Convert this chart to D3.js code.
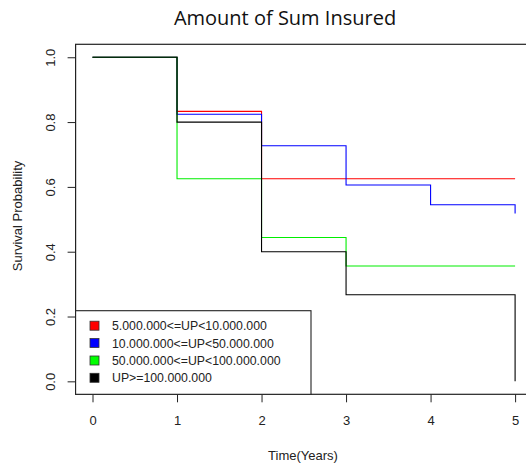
<!DOCTYPE html>
<html>
<head>
<meta charset="utf-8">
<script src="https://cdn.jsdelivr.net/npm/d3@7"></script>
<style>
  html, body { margin: 0; padding: 0; background: #fff; }
  svg { display: block; }
</style>
</head>
<body>
<script>
// ---- data ----
const seriesNames = ["5.000.000<=UP<10.000.000", "10.000.000<=UP<50.000.000", "50.000.000<=UP<100.000.000", "UP>=100.000.000"];
const seriesColors = ["#ff0000", "#0000ff", "#00ee00", "#000000"];
const redTimes = [0, 1, 2, 5];
const redSurv = [1, 0.833, 0.625, 0.625];
const blueTimes = [0, 1, 2, 3, 4, 5];
const blueSurv = [1, 0.824, 0.727, 0.606, 0.545, 0.518];
const greenTimes = [0, 1, 2, 3, 5];
const greenSurv = [1, 0.625, 0.444, 0.356, 0.356];
const blackTimes = [0, 1, 2, 3, 5];
const blackSurv = [1, 0.8, 0.4, 0.267, 0];
const xTicks = [0, 1, 2, 3, 4, 5];
const yTicks = [0, 0.2, 0.4, 0.6, 0.8, 1.0];
const titleText = "Amount of Sum Insured";
const xLabel = "Time(Years)";
const yLabel = "Survival Probability";

const W = 526, H = 466;
const svg = d3.select("body").append("svg").attr("width", W).attr("height", H);

const x = d3.scaleLinear().domain([-0.2, 5.2]).range([75.6, 532]);
const y = d3.scaleLinear().domain([-0.04, 1.04]).range([394.3, 44.3]);

const font = "'Liberation Sans', Arial, sans-serif";
const textCol = "#222";

// title
svg.append("text").attr("x", 285).attr("y", 25).attr("text-anchor", "middle")
  .attr("font-family", "'Open Sans', 'Noto Sans', sans-serif").attr("font-size", 20)
  .attr("fill", "#111").text(titleText);

// step lines
const series = [
  { t: redTimes, s: redSurv },
  { t: blueTimes, s: blueSurv },
  { t: greenTimes, s: greenSurv },
  { t: blackTimes, s: blackSurv }
];
const line = d3.line().x(d => x(d[0])).y(d => y(d[1])).curve(d3.curveStepAfter);
series.forEach((sr, i) => {
  const pts = sr.t.map((t, j) => [t, sr.s[j]]);
  svg.append("path").attr("d", line(pts)).attr("fill", "none")
    .attr("stroke", seriesColors[i]).attr("stroke-width", 1.1);
});

// box
svg.append("rect").attr("x", x(-0.2)).attr("y", y(1.04))
  .attr("width", x(5.2) - x(-0.2)).attr("height", y(-0.04) - y(1.04))
  .attr("fill", "none").attr("stroke", "#222").attr("stroke-width", 1.2);

// x axis
const xAxis = d3.axisBottom(x).tickValues(xTicks).tickSize(8).tickPadding(13.5).tickSizeOuter(0)
  .tickFormat(d3.format("d"));
const gx = svg.append("g").attr("transform", `translate(0,${y(-0.04)})`).call(xAxis);
gx.select(".domain").remove();
gx.selectAll("line").attr("stroke", "#222");
gx.selectAll("text").attr("font-family", font).attr("font-size", 13).attr("fill", textCol);

// y axis
const yAxis = d3.axisLeft(y).tickValues(yTicks).tickSize(8).tickFormat(d3.format(".1f"));
const gy = svg.append("g").attr("transform", `translate(${x(-0.2)},0)`).call(yAxis);
gy.select(".domain").remove();
gy.selectAll("line").attr("stroke", "#222");
gy.selectAll("text").attr("font-family", font).attr("font-size", 13).attr("fill", textCol)
  .attr("text-anchor", "middle").attr("dy", null).attr("x", 0).attr("y", 0)
  .attr("transform", "translate(-20.5,0) rotate(-90)");

// axis labels
svg.append("text").attr("x", 303).attr("y", 460).attr("text-anchor", "middle")
  .attr("font-family", font).attr("font-size", 13).attr("fill", textCol).text(xLabel);
svg.append("text").attr("transform", `translate(22,216) rotate(-90)`).attr("text-anchor", "middle")
  .attr("font-family", font).attr("font-size", 13).attr("fill", textCol).text(yLabel);

// legend
const lg = svg.append("g");
lg.append("rect").attr("x", x(-0.2)).attr("y", 310.7).attr("width", 311 - x(-0.2))
  .attr("height", y(-0.04) - 310.7).attr("fill", "#fff").attr("stroke", "#222").attr("stroke-width", 1.1);
const rowY = [325.7, 343, 360.5, 377.8];
seriesNames.forEach((name, i) => {
  lg.append("rect").attr("x", 90).attr("y", rowY[i] - 4.5).attr("width", 9).attr("height", 9)
    .attr("fill", seriesColors[i] === "#00ee00" ? "#00ff00" : seriesColors[i]).attr("stroke", "#333").attr("stroke-width", 0.8);
  lg.append("text").attr("x", 112).attr("y", rowY[i] + 4.5)
    .attr("font-family", font).attr("font-size", 12.3).attr("fill", textCol).text(name);
});
</script>
</body>
</html>
